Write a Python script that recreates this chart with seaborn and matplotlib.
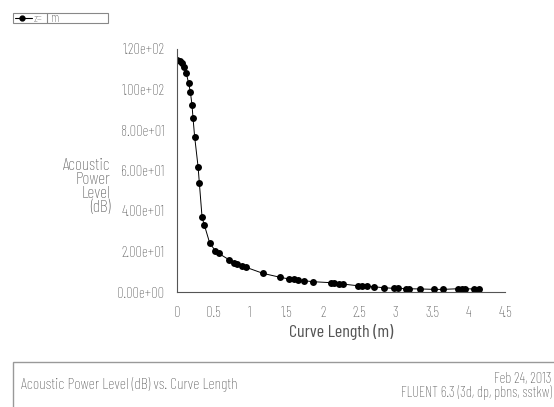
import matplotlib
matplotlib.use("Agg")
import matplotlib.pyplot as plt
import seaborn as sns
import pandas as pd
from matplotlib.patches import Rectangle
from matplotlib.lines import Line2D
from matplotlib.ticker import MultipleLocator, FormatStrFormatter

curve_length = [0, 0.036, 0.069, 0.10, 0.128, 0.16, 0.183, 0.206, 0.22, 0.242,
                0.289, 0.307, 0.344, 0.375, 0.45, 0.527, 0.57, 0.72, 0.78, 0.83,
                0.89, 0.94, 1.18, 1.41, 1.54, 1.60, 1.66, 1.74, 1.86, 2.11,
                2.15, 2.22, 2.28, 2.48, 2.54, 2.61, 2.70, 2.84, 2.98, 3.03,
                3.14, 3.18, 3.34, 3.53, 3.65, 3.85, 3.91, 3.95, 4.07, 4.15]
power_level = [114.6, 114.1, 112.9, 111.3, 108, 103, 98.9, 92.3, 85.8, 76.7,
               61.9, 53.7, 36.8, 33.1, 24, 20.4, 19.1, 15.8, 14.5, 13.7,
               12.8, 12.3, 9.2, 7.3, 6.4, 6.3, 5.9, 5.6, 5.1, 4.6,
               4.4, 4.0, 3.9, 3.1, 2.9, 2.8, 2.6, 2.1, 1.8, 1.8,
               1.6, 1.6, 1.5, 1.3, 1.3, 1.6, 1.6, 1.6, 1.5, 1.5]

x_ticks = [0, 0.5, 1, 1.5, 2, 2.5, 3, 3.5, 4, 4.5]
x_tick_labels = ["0", "0.5", "1", "1.5", "2", "2.5", "3", "3.5", "4", "4.5"]
y_ticks = [0, 20, 40, 60, 80, 100, 120]

title_text = "Acoustic Power Level (dB) vs. Curve Length"
date_text = "Feb 24, 2013"
solver_text = "FLUENT 6.3 (3d, dp, pbns, sstkw)"

sns.set_style("white")
plt.rcParams['font.family'] = ['Barlow Condensed', 'DejaVu Sans']
plt.rcParams['font.weight'] = 'light'
grey = "#555555"

df = pd.DataFrame({"Curve Length": curve_length, "Power": power_level})

fig = plt.figure(figsize=(5.54, 4.07), dpi=100)
ax = fig.add_axes([177/554, 1-292/407, (505-177)/554, (292-49)/407])
sns.lineplot(data=df, x="Curve Length", y="Power", ax=ax, color="black",
             linewidth=0.7, marker="o", markersize=5, markeredgewidth=0,
             sort=False)

ax.set_xlim(0, 4.5)
ax.set_ylim(0, 120)
ax.set_xticks(x_ticks)
ax.set_xticklabels(x_tick_labels)
ax.set_yticks(y_ticks)
ax.yaxis.set_major_formatter(FormatStrFormatter('%.2e'))
ax.xaxis.set_minor_locator(MultipleLocator(0.25))
ax.yaxis.set_minor_locator(MultipleLocator(10))
for s in ["top", "right"]:
    ax.spines[s].set_visible(False)
for s in ["left", "bottom"]:
    ax.spines[s].set_color(grey)
    ax.spines[s].set_linewidth(0.8)
ax.tick_params(axis="both", which="major", direction="out", length=5,
               width=0.8, color=grey, labelcolor=grey, labelsize=10.5, pad=4)
ax.tick_params(axis="both", which="minor", direction="out", length=3,
               width=0.8, color=grey)
ax.tick_params(axis="x", which="major", labelsize=10.5, pad=5)
ax.set_xlabel("Curve Length (m)", fontsize=13, color=grey, labelpad=3)
ax.set_ylabel("")
fig.text(110/554, 1-187/407, "Acoustic\nPower\nLevel\n(dB)", ha="right",
         va="center", fontsize=12.5, color=grey, linespacing=0.82)

# legend box top-left
fig.patches.append(Rectangle((13/554, 1-23/407), 95/554, 10/407, transform=fig.transFigure,
                             fill=False, edgecolor="#888888", linewidth=0.8))
fig.lines.append(Line2D([15/554, 32/554], [1-18/407, 1-18/407],
                        transform=fig.transFigure, color="black", lw=0.8))
fig.lines.append(Line2D([22/554], [1-18/407], transform=fig.transFigure,
                        color="black", marker="o", markersize=3.5))
fig.lines.append(Line2D([47/554, 47/554], [1-13/407, 1-23/407],
                        transform=fig.transFigure, color="#888888", lw=0.8))
fig.text(34/554, 1-18.5/407, "z=", fontsize=8, color=grey, va="center")
fig.text(51/554, 1-18.5/407, "m", fontsize=9.5, color=grey, va="center")

# bottom info box
fig.patches.append(Rectangle((13/554, -0.01), 1, 0.01 + (407-362)/407, transform=fig.transFigure,
                             fill=False, edgecolor="#999999", linewidth=1.0))
fig.text(21/554, 1-385/407, title_text, fontsize=11.3, color=grey, va="center")
fig.text(552/554, 1-379.5/407, date_text, fontsize=10.5, color=grey, va="center", ha="right")
fig.text(552/554, 1-392.5/407, solver_text, fontsize=10.5, color=grey, va="center", ha="right")

fig.savefig("out.png", dpi=100)
